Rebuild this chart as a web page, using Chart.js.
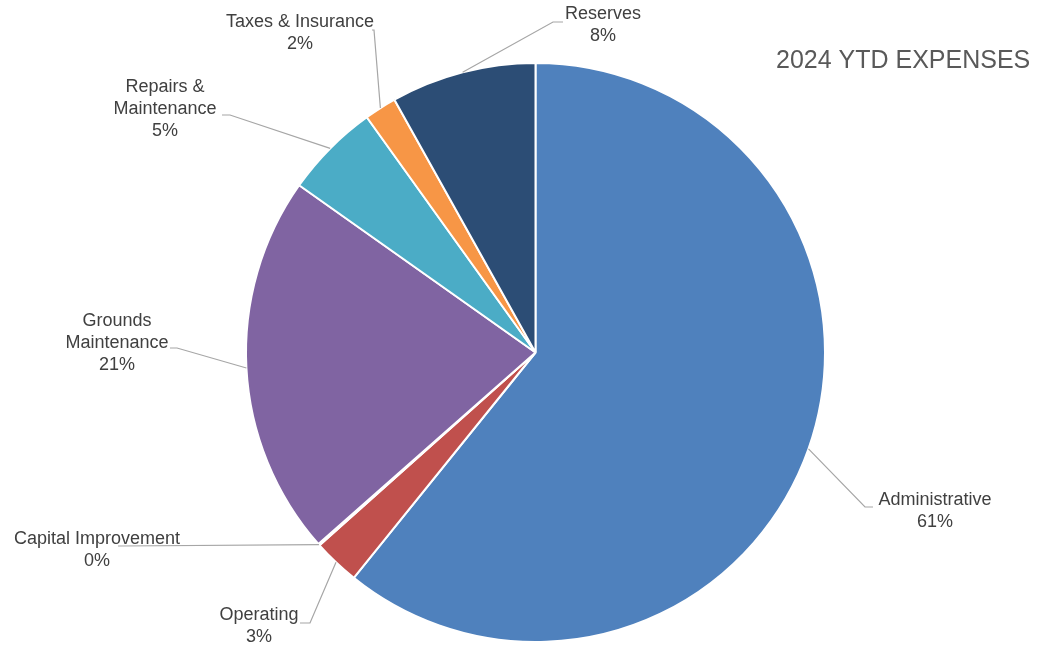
<!DOCTYPE html>
<html>
<head>
<meta charset="utf-8">
<script src="https://cdn.jsdelivr.net/npm/chart.js@4/dist/chart.umd.min.js"></script>
<style>
  html, body { margin: 0; padding: 0; background: #ffffff; }
  #wrap { position: relative; width: 1049px; height: 646px; }
</style>
</head>
<body>
<div id="wrap"><canvas id="c" width="1049" height="646"></canvas></div>
<script>
// ---- data ----
const categories = ["Administrative", "Operating", "Capital Improvement", "Grounds Maintenance", "Repairs & Maintenance", "Taxes & Insurance", "Reserves"];
const values = [60.8, 2.6, 0.1, 21.3, 5.3, 1.8, 8.1];
const titleText = "2024 YTD EXPENSES";

// ---- styles / layout ----
const colors = ["#4F81BD", "#C0504D", "#9BBB59", "#8064A2", "#4BACC6", "#F79646", "#2C4D75"];
const labelLines = [["Administrative"], ["Operating"], ["Capital Improvement"], ["Grounds", "Maintenance"], ["Repairs &", "Maintenance"], ["Taxes & Insurance"], ["Reserves"]];
// text centre x, first-line y, elbow point, label-side end point
const labelLayout = [
  { x: 935, y: 500, elbow: [865, 507], end: [873, 507] },
  { x: 259, y: 615, elbow: [310, 623], end: [300, 623] },
  { x: 97,  y: 539, elbow: [120, 546], end: [118, 546] },
  { x: 117, y: 321, elbow: [177, 348], end: [170, 348] },
  { x: 165, y: 87,  elbow: [230, 115], end: [222, 115] },
  { x: 300, y: 22,  elbow: [374, 30],  end: [372, 30] },
  { x: 603, y: 14,  elbow: [553, 22],  end: [563, 22] }
];
const lineHeight = 22;

const labelPlugin = {
  id: 'excelLabels',
  afterDatasetsDraw(chart) {
    const ctx = chart.ctx;
    const meta = chart.getDatasetMeta(0);
    const data = chart.data.datasets[0].data;
    const total = data.reduce((a, b) => a + b, 0);
    ctx.save();
    // leader lines
    ctx.strokeStyle = "#A6A6A6";
    ctx.lineWidth = 1.2;
    meta.data.forEach((el, i) => {
      const p = el.getProps(['x', 'y', 'startAngle', 'endAngle', 'outerRadius'], true);
      const mid = (p.startAngle + p.endAngle) / 2;
      const sx = p.x + Math.cos(mid) * p.outerRadius;
      const sy = p.y + Math.sin(mid) * p.outerRadius;
      const L = labelLayout[i];
      ctx.beginPath();
      ctx.moveTo(sx, sy);
      ctx.lineTo(L.elbow[0], L.elbow[1]);
      ctx.lineTo(L.end[0], L.end[1]);
      ctx.stroke();
    });
    // label texts
    ctx.fillStyle = "#404040";
    ctx.font = "18px 'Liberation Sans', Arial, sans-serif";
    ctx.textAlign = "center";
    ctx.textBaseline = "middle";
    data.forEach((v, i) => {
      const L = labelLayout[i];
      const lines = labelLines[i].concat([Math.round(v / total * 100) + "%"]);
      lines.forEach((t, k) => ctx.fillText(t, L.x, L.y + k * lineHeight));
    });
    // title
    ctx.fillStyle = "#595959";
    ctx.font = "25px 'Liberation Sans', Arial, sans-serif";
    ctx.textAlign = "left";
    ctx.textBaseline = "middle";
    ctx.fillText(titleText, 776, 61);
    ctx.restore();
  }
};

new Chart(document.getElementById('c'), {
  type: 'pie',
  data: {
    labels: categories,
    datasets: [{
      data: values,
      backgroundColor: colors,
      borderColor: "#ffffff",
      borderWidth: 2
    }]
  },
  options: {
    responsive: false,
    animation: false,
    rotation: 0,
    layout: { padding: { top: 62, bottom: 3, left: 245, right: 223 } },
    plugins: {
      legend: { display: false },
      tooltip: { enabled: false },
      title: { display: false }
    }
  },
  plugins: [labelPlugin]
});
</script>
</body>
</html>
